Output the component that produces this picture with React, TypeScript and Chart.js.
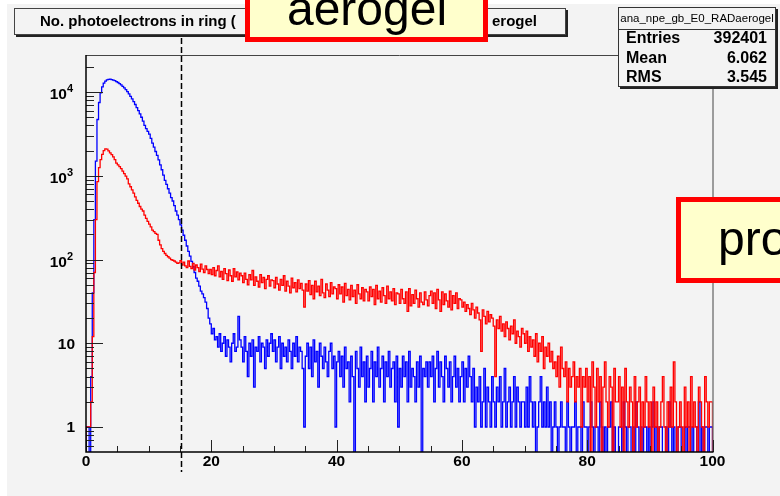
import React, { useEffect, useRef } from "react";
import { Chart, registerables } from "chart.js";

Chart.register(...registerables);

// ---------- data ----------
const BIN_WIDTH = 0.25;

// blue: histogram ana_npe_gb_E0_RADaerogel (400 bins, 0..100), one row = 5 units
const blueCounts = [
  1, 1, 1, 0, 4, 40, 300, 1500, 4700, 7500, 9800, 11500, 12800, 13500, 14000, 14200, 14300, 14100, 13900, 13700,
  13300, 13000, 12600, 12200, 11700, 11200, 10700, 10100, 9500, 8900, 8300, 7700, 7100, 6500, 6000, 5500, 5000, 4500, 4000, 3650,
  3400, 3150, 2800, 2450, 2200, 1950, 1750, 1550, 1350, 1180, 1020, 880, 790, 700, 620, 550, 500, 440, 380, 340,
  300, 260, 225, 195, 170, 145, 125, 110, 95, 82, 70, 60, 55, 48, 42, 39, 35, 31, 26, 20,
  17, 13, 15, 11, 12, 9, 13, 8, 10, 12, 7, 11, 9, 6, 10, 13, 8, 9, 21, 11,
  9, 6, 12, 8, 4, 10, 7, 11, 3, 9, 8, 12, 6, 10, 9, 5, 11, 7, 10, 13,
  8, 11, 6, 9, 12, 5, 10, 7, 9, 6, 11, 8, 5, 10, 7, 12, 6, 9, 8, 5,
  1, 7, 10, 5, 9, 4, 11, 6, 8, 3, 10, 7, 5, 9, 6, 4, 8, 10, 5, 7,
  1, 6, 8, 4, 7, 3, 9, 5, 6, 2, 7, 4, 0, 8, 5, 3, 9, 4, 6, 2,
  7, 3, 5, 8, 2, 6, 4, 9, 3, 5, 7, 2, 6, 4, 8, 3, 5, 6, 2, 7,
  1, 5, 3, 7, 4, 6, 2, 8, 3, 5, 4, 2, 6, 3, 7, 0, 5, 4, 6, 3,
  6, 4, 7, 2, 5, 8, 3, 6, 4, 2, 7, 5, 3, 6, 2, 4, 7, 3, 5, 2,
  4, 6, 2, 5, 3, 7, 4, 2, 5, 1, 3, 2, 4, 1, 2, 5, 1, 3, 2, 1,
  4, 2, 1, 3, 2, 4, 1, 2, 5, 1, 2, 3, 1, 2, 4, 1, 3, 2, 1, 2,
  2, 1, 3, 1, 4, 2, 1, 2, 0, 1, 2, 4, 1, 2, 1, 3, 1, 2, 0, 1,
  2, 1, 0, 1, 2, 1, 1, 0, 2, 1, 0, 1, 1, 2, 0, 1, 1, 0, 2, 1,
  1, 0, 1, 2, 1, 0, 1, 1, 0, 2, 1, 0, 1, 0, 1, 1, 2, 0, 1, 0,
  0, 1, 1, 0, 2, 1, 0, 1, 1, 0, 1, 0, 2, 1, 0, 1, 0, 1, 1, 0,
  1, 0, 1, 2, 0, 1, 0, 1, 1, 0, 0, 1, 0, 2, 1, 0, 1, 0, 0, 1,
  1, 0, 0, 1, 0, 1, 1, 0, 1, 0, 0, 1, 2, 0, 1, 0, 1, 1, 0, 1,
];

// red: second histogram (400 bins, 0..100)
const redCounts = [
  0, 1, 1, 1, 2, 12, 70, 300, 850, 1250, 1560, 1800, 2000, 2100, 2080, 1980, 1880, 1790, 1680, 1560,
  1420, 1350, 1290, 1220, 1140, 1060, 990, 920, 800, 740, 680, 620, 560, 510, 470, 430, 400, 380, 340, 310,
  285, 265, 245, 225, 215, 205, 200, 170, 150, 135, 125, 118, 112, 108, 104, 100, 98, 96, 93, 90,
  91, 97, 86, 93, 84, 80, 96, 83, 78, 90, 75, 86, 80, 72, 88, 77, 70, 84, 76, 68,
  76, 66, 80, 64, 74, 84, 62, 72, 58, 78, 68, 56, 75, 64, 55, 78, 62, 71, 57, 69,
  64, 53, 69, 58, 50, 66, 57, 74, 49, 62, 55, 47, 66, 53, 61, 45, 58, 64, 48, 57,
  56, 46, 61, 51, 43, 58, 49, 64, 42, 55, 48, 40, 60, 46, 53, 41, 57, 45, 52, 43,
  27, 51, 42, 56, 38, 49, 34, 55, 41, 48, 37, 58, 40, 35, 51, 43, 36, 53, 39, 47,
  45, 34, 50, 39, 47, 31, 52, 37, 44, 33, 49, 36, 43, 30, 50, 39, 34, 46, 32, 44,
  41, 32, 47, 36, 44, 29, 49, 34, 42, 31, 46, 37, 30, 48, 34, 41, 32, 45, 29, 40,
  39, 30, 44, 34, 30, 41, 24, 45, 28, 38, 30, 43, 34, 27, 40, 31, 29, 41, 33, 28,
  37, 42, 30, 40, 26, 44, 33, 24, 41, 29, 39, 32, 27, 42, 25, 37, 30, 40, 26, 34,
  33, 27, 31, 24, 29, 26, 22, 30, 25, 20, 27, 23, 19, 8, 25, 21, 17, 24, 18, 22,
  20, 16, 4, 19, 15, 21, 14, 17, 12, 18, 15, 11, 16, 13, 19, 10, 14, 12, 9, 15,
  13, 10, 14, 8, 12, 9, 11, 7, 13, 6, 10, 8, 12, 5, 9, 7, 10, 6, 8, 5,
  6, 4, 7, 3, 9, 5, 4, 6, 2, 5, 3, 4, 6, 2, 4, 3, 5, 1, 4, 3,
  5, 2, 4, 0, 6, 3, 1, 5, 2, 4, 0, 3, 6, 2, 1, 4, 3, 0, 5, 2,
  2, 4, 1, 3, 0, 5, 2, 1, 3, 2, 0, 4, 1, 2, 3, 0, 2, 1, 4, 2,
  1, 2, 0, 3, 1, 2, 0, 1, 2, 4, 1, 0, 2, 1, 3, 1, 6, 2, 0, 1,
  2, 1, 0, 3, 1, 2, 0, 4, 1, 2, 1, 0, 3, 2, 1, 0, 4, 2, 1, 2,
];

const xTickValues = [0, 20, 40, 60, 80, 100];
const xTickLabels = ["0", "20", "40", "60", "80", "100"];
const yTickValues = [1, 10, 100, 1000, 10000];
const yTickBases = ["1", "10", "10", "10", "10"];
const yTickExps = ["", "", "2", "3", "4"];
const cutValue = 15.1;

const titleLeft = "No. photoelectrons in ring (";
const titleRight = "erogel";
const statsTitle = "ana_npe_gb_E0_RADaerogel";
const statsNames = ["Entries", "Mean", "RMS"];
const statsValues = ["392401", "6.062", "3.545"];
const labelTop = "aerogel";
const labelRight = "proton";

// ---------- styling ----------
const W = 780;
const H = 496;
const BG = "#f3f3f3";
const FONT = '"Liberation Sans", Arial, Helvetica, sans-serif';
const FLOOR = 0.05;

function toPoints(counts: number[]) {
  const pts: { x: number; y: number }[] = [{ x: 0, y: FLOOR }];
  counts.forEach((c, i) => pts.push({ x: i * BIN_WIDTH, y: c > 0 ? c : FLOOR }));
  const last = counts[counts.length - 1];
  pts.push({ x: counts.length * BIN_WIDTH, y: last > 0 ? last : FLOOR });
  pts.push({ x: counts.length * BIN_WIDTH, y: FLOOR });
  return pts;
}

function drawLabelBox(ctx: CanvasRenderingContext2D, x: number, y: number, w: number, h: number, b: number) {
  ctx.fillStyle = "#ff0000";
  ctx.fillRect(x, y, w, h);
  ctx.fillStyle = "#ffffcc";
  ctx.fillRect(x + b, y + b, w - 2 * b, h - 2 * b);
}

const rootPlugin = {
  id: "rootStyle",
  beforeDraw(chart: any) {
    const ctx: CanvasRenderingContext2D = chart.ctx;
    ctx.save();
    ctx.fillStyle = "#ffffff";
    ctx.fillRect(0, 0, chart.width, chart.height);
    ctx.fillStyle = BG;
    ctx.fillRect(7, 4, chart.width - 7, chart.height - 4);
    ctx.restore();
  },
  afterDatasetsDraw(chart: any) {
    const ctx: CanvasRenderingContext2D = chart.ctx;
    const xs = chart.scales.x;
    const ys = chart.scales.y;
    const { left, right, top, bottom } = chart.chartArea;
    ctx.save();

    ctx.strokeStyle = "#444";
    ctx.lineWidth = 1;
    ctx.beginPath();
    ctx.moveTo(left, top + 0.5);
    ctx.lineTo(right + 0.5, top + 0.5);
    ctx.lineTo(right + 0.5, bottom);
    ctx.stroke();

    ctx.strokeStyle = "#222";
    ctx.lineWidth = 1;
    ctx.beginPath();
    for (let v = 0; v <= 100; v += 5) {
      const px = Math.round(xs.getPixelForValue(v)) + 0.5;
      const len = v % 20 === 0 ? 12 : 6;
      ctx.moveTo(px, bottom);
      ctx.lineTo(px, bottom - len);
    }
    for (let e = -1; e <= 4; e++) {
      for (let m = 1; m <= 9; m++) {
        const v = m * Math.pow(10, e);
        if (v < ys.min || v > ys.max) continue;
        const py = Math.round(ys.getPixelForValue(v)) + 0.5;
        ctx.moveTo(left, py);
        ctx.lineTo(left + (m === 1 ? 17 : 8), py);
      }
    }
    ctx.stroke();

    ctx.strokeStyle = "#000";
    ctx.lineWidth = 1.5;
    ctx.beginPath();
    ctx.moveTo(left, top);
    ctx.lineTo(left, bottom);
    ctx.lineTo(right + 1, bottom);
    ctx.stroke();

    ctx.fillStyle = "#000";
    ctx.font = `bold 15.5px ${FONT}`;
    ctx.textAlign = "center";
    ctx.textBaseline = "middle";
    xTickValues.forEach((v, i) => {
      ctx.fillText(xTickLabels[i], xs.getPixelForValue(v), bottom + 10);
    });

    yTickValues.forEach((v, i) => {
      const py = ys.getPixelForValue(v);
      const rx = left - 11;
      const exp = yTickExps[i];
      if (exp) {
        ctx.font = `bold 11px ${FONT}`;
        const ew = ctx.measureText(exp).width;
        ctx.textAlign = "right";
        ctx.fillText(exp, rx - 2, py - 3);
        ctx.font = `bold 15.5px ${FONT}`;
        ctx.fillText(yTickBases[i], rx - 2 - ew, py + 3);
      } else {
        ctx.font = `bold 15.5px ${FONT}`;
        ctx.textAlign = "right";
        ctx.fillText(yTickBases[i], rx, py + 1);
      }
    });

    const cx = Math.round(xs.getPixelForValue(cutValue)) + 0.5;
    ctx.strokeStyle = "#000";
    ctx.lineWidth = 1.5;
    ctx.setLineDash([6, 3]);
    ctx.beginPath();
    ctx.moveTo(cx, 38);
    ctx.lineTo(cx, 472);
    ctx.stroke();
    ctx.setLineDash([]);
    ctx.restore();
  },
  afterDraw(chart: any) {
    const ctx: CanvasRenderingContext2D = chart.ctx;
    ctx.save();

    ctx.fillStyle = "#222";
    ctx.fillRect(16, 10, 552, 27);
    ctx.fillStyle = BG;
    ctx.fillRect(14, 8, 552, 27);
    ctx.strokeStyle = "#444";
    ctx.lineWidth = 1;
    ctx.strokeRect(14.5, 8.5, 551, 26);
    ctx.fillStyle = "#000";
    ctx.font = `bold 15px ${FONT}`;
    ctx.textBaseline = "middle";
    ctx.textAlign = "left";
    ctx.fillText(titleLeft, 40, 22);
    ctx.textAlign = "right";
    ctx.fillText(titleRight, 537, 22);

    drawLabelBox(ctx, 245, -10, 243, 52, 5);
    ctx.fillStyle = "#000";
    ctx.font = `48px ${FONT}`;
    ctx.textAlign = "center";
    ctx.textBaseline = "alphabetic";
    ctx.fillText(labelTop, 367, 25);

    ctx.fillStyle = "#222";
    ctx.fillRect(620, 9, 158, 80);
    ctx.fillStyle = BG;
    ctx.fillRect(618, 7, 158, 80);
    ctx.strokeStyle = "#333";
    ctx.lineWidth = 1;
    ctx.strokeRect(618.5, 7.5, 157, 79);
    ctx.beginPath();
    ctx.moveTo(618, 29.5);
    ctx.lineTo(776, 29.5);
    ctx.stroke();
    ctx.fillStyle = "#000";
    ctx.font = `11.5px ${FONT}`;
    ctx.textAlign = "center";
    ctx.textBaseline = "middle";
    ctx.fillText(statsTitle, 697, 18.5, 154);
    ctx.font = `bold 16px ${FONT}`;
    statsNames.forEach((n, i) => {
      const yy = 39 + i * 19.5;
      ctx.textAlign = "left";
      ctx.fillText(n, 626, yy);
      ctx.textAlign = "right";
      ctx.fillText(statsValues[i], 767, yy);
    });

    drawLabelBox(ctx, 676, 197, 140, 86, 5);
    ctx.fillStyle = "#000";
    ctx.font = `48px ${FONT}`;
    ctx.textAlign = "left";
    ctx.textBaseline = "alphabetic";
    ctx.fillText(labelRight, 718, 255);

    ctx.restore();
  },
};

export default function App() {
  const ref = useRef<HTMLCanvasElement | null>(null);

  useEffect(() => {
    if (!ref.current) return;
    const chart = new Chart(ref.current, {
      type: "line",
      data: {
        datasets: [
          {
            label: "red",
            data: toPoints(redCounts),
            borderColor: "#ff0000",
            borderWidth: 1.3,
            stepped: "after",
            pointRadius: 0,
            fill: false,
            order: 1,
          },
          {
            label: "ana_npe_gb_E0_RADaerogel",
            data: toPoints(blueCounts),
            borderColor: "#0000ff",
            borderWidth: 1.3,
            stepped: "after",
            pointRadius: 0,
            fill: false,
            order: 2,
          },
        ],
      },
      options: {
        animation: false,
        responsive: false,
        devicePixelRatio: 1,
        layout: { padding: { left: 86, right: 67.5, top: 55, bottom: 44 } },
        plugins: { legend: { display: false }, tooltip: { enabled: false } },
        scales: {
          x: { type: "linear", min: 0, max: 100, display: false },
          y: { type: "logarithmic", min: 0.503, max: 27700, display: false },
        },
      },
      plugins: [rootPlugin],
    });
    return () => chart.destroy();
  }, []);

  return (
    <div style={{ position: "fixed", left: 0, top: 0, width: W, height: H, background: "#fff" }}>
      <canvas ref={ref} width={W} height={H} style={{ display: "block", width: W, height: H }} />
    </div>
  );
}
